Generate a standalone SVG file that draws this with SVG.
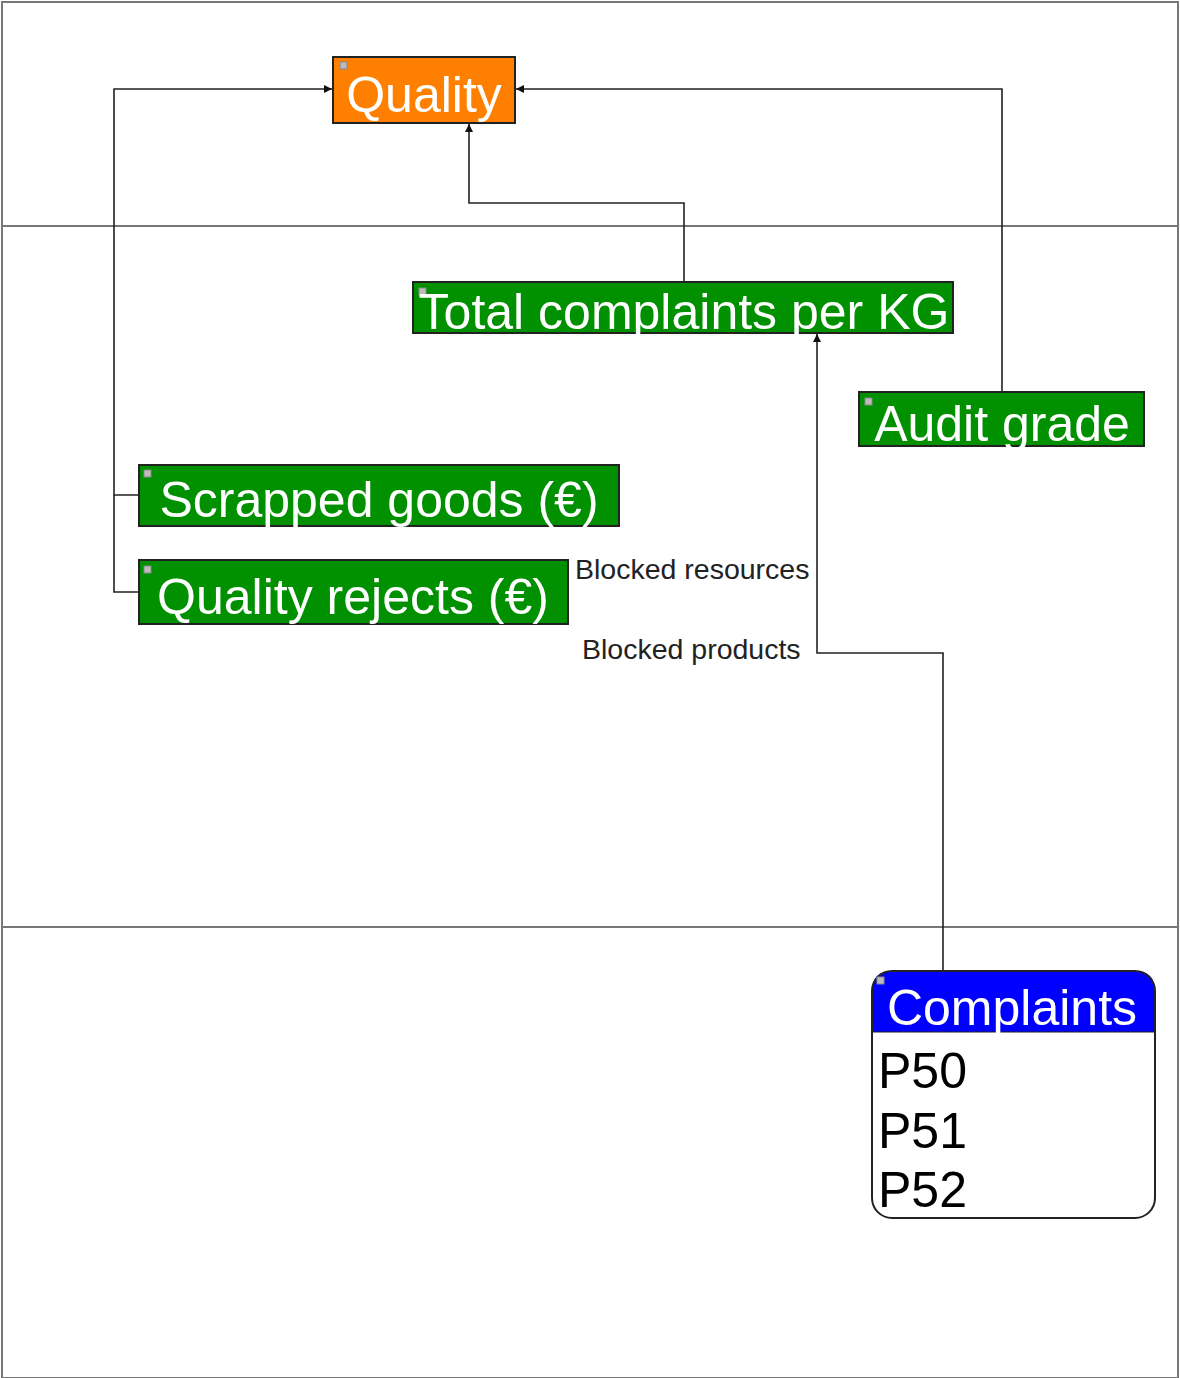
<svg xmlns="http://www.w3.org/2000/svg" width="1180" height="1378" viewBox="0 0 1180 1378">
<style>
.lane{stroke:#777;stroke-width:2;fill:none}
.box{stroke:#222;stroke-width:2}
.nt{font-family:"Liberation Sans",Arial,sans-serif;font-size:50px;fill:#fff;text-anchor:middle}
.bt{font-family:"Liberation Sans",Arial,sans-serif;font-size:50px;fill:#000}
.lbl{font-family:"Liberation Sans",Arial,sans-serif;font-size:28.5px;fill:#222}
.ic{fill:#bbb;stroke:#888;stroke-width:1}
.c{stroke:#222;stroke-width:1.6;fill:none}
</style>
<defs>
<marker id="ah" viewBox="0 0 10 10" refX="10" refY="5" markerWidth="8" markerHeight="8" markerUnits="userSpaceOnUse" orient="auto">
<path d="M0,0 L10,5 L0,10 z" fill="#111"/>
</marker>
</defs>
<rect width="1180" height="1378" fill="#fff"/>
<g id="lanes">
<rect class="lane" x="2" y="2" width="1176" height="1376"/>
<line class="lane" x1="2" y1="226" x2="1178" y2="226"/>
<line class="lane" x1="2" y1="927" x2="1178" y2="927"/>
</g>
<g id="connectors">
<path class="c" d="M139,495 H114 V89 H332" marker-end="url(#ah)"/>
<path class="c" d="M139,592 H114 V495"/>
<path class="c" d="M684,282 V203 H469 V124" marker-end="url(#ah)"/>
<path class="c" d="M1002,392 V89 H516" marker-end="url(#ah)"/>
<path class="c" d="M943,971 V653 H817 V334" marker-end="url(#ah)"/>
<text class="lbl" x="575" y="579">Blocked resources</text>
<text class="lbl" x="582" y="659">Blocked products</text>
</g>
<g id="quality">
<rect class="box" x="333" y="57" width="182" height="66" fill="#ff8000"/>
<rect class="ic" x="340" y="62" width="7" height="7"/>
<text class="nt" x="424" y="112">Quality</text>
</g>
<g id="total-complaints">
<rect class="box" x="413" y="282" width="540" height="51" fill="#009000"/>
<rect class="ic" x="419" y="288" width="7" height="7"/>
<text class="nt" x="684" y="329">Total complaints per KG</text>
</g>
<g id="audit-grade">
<rect class="box" x="859" y="392" width="285" height="54" fill="#009000"/>
<rect class="ic" x="865" y="398" width="7" height="7"/>
<text class="nt" x="1002" y="441">Audit grade</text>
</g>
<g id="scrapped-goods">
<rect class="box" x="139" y="465" width="480" height="61" fill="#009000"/>
<rect class="ic" x="144" y="470" width="7" height="7"/>
<text class="nt" x="379" y="517">Scrapped goods (€)</text>
</g>
<g id="quality-rejects">
<rect class="box" x="139" y="560" width="429" height="64" fill="#009000"/>
<rect class="ic" x="144" y="566" width="7" height="7"/>
<text class="nt" x="353" y="614">Quality rejects (€)</text>
</g>
<g id="complaints">
<path d="M872,1032 V991 Q872,971 892,971 H1135 Q1155,971 1155,991 V1032 Z" fill="#0000ff"/>
<rect x="872" y="971" width="283" height="247" rx="20" ry="20" fill="none" stroke="#222" stroke-width="2"/>
<line x1="872" y1="1032" x2="1155" y2="1032" stroke="#222" stroke-width="1"/>
<rect class="ic" x="877" y="977" width="7" height="7"/>
<text class="nt" x="1012" y="1025">Complaints</text>
<text class="bt" x="878" y="1088">P50</text>
<text class="bt" x="878" y="1148">P51</text>
<text class="bt" x="878" y="1207">P52</text>
</g>
</svg>
